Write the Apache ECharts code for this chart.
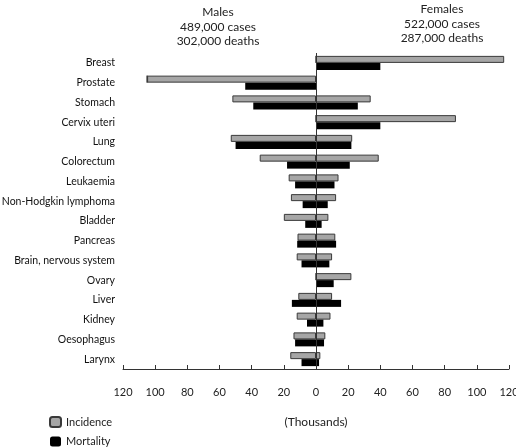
<!DOCTYPE html>
<html><head><meta charset="utf-8">
<script src="https://cdn.jsdelivr.net/npm/echarts@6/dist/echarts.min.js"></script>
<style>html,body{margin:0;padding:0;background:#fff}#c{width:516px;height:448px}</style>
</head><body><div id="c"></div>
<script>
const categories = ["Breast","Prostate","Stomach","Cervix uteri","Lung","Colorectum","Leukaemia","Non-Hodgkin lymphoma","Bladder","Pancreas","Brain, nervous system","Ovary","Liver","Kidney","Oesophagus","Larynx"];
const maleIncidence = [0,105,52,0,53,35,17,15.6,20,11.5,12,0,11,12,14,16];
const maleMortality = [0,44,39,0,50,18,13,8.3,6.7,11.7,9,0,15,5.6,13,9];
const femaleIncidence = [117,0,34,87,22.5,39,14,12.5,7.7,12,10,22,10,9,5.8,2.7];
const femaleMortality = [40,0,26,40,22,21,11.5,7.3,3.5,12.5,8.3,11,15.6,4.6,5,1.9];
const xTicks = {min:-120, max:120, interval:20};

const font = "Lato, 'Open Sans', sans-serif";
const chart = echarts.init(document.getElementById('c'));
const neg = a => a.map(v => -v);
const incStyle = {color:'#a6a6a6', borderColor:'#3a3a3a', borderWidth:1};
const mortStyle = {color:'#000'};
chart.setOption({
  animation:false,
  textStyle:{fontFamily:font},
  title:[
    {text:'Males\n489,000 cases\n302,000 deaths', left:218, top:5, textAlign:'center', padding:0,
     textStyle:{fontSize:12, fontWeight:'normal', color:'#222', lineHeight:14.5, fontFamily:font}},
    {text:'Females\n522,000 cases\n287,000 deaths', left:442, top:2, textAlign:'center', padding:0,
     textStyle:{fontSize:12, fontWeight:'normal', color:'#222', lineHeight:14.5, fontFamily:font}}
  ],
  legend:{orient:'vertical', left:49, top:416, padding:0, itemWidth:11, itemHeight:10, itemGap:8,
    data:['Incidence','Mortality'],
    textStyle:{fontSize:11, color:'#222', fontFamily:font}},
  grid:{left:123, right:7, top:53, bottom:79, outerBoundsMode:'none', containLabel:false},
  xAxis:{type:'value', min:xTicks.min, max:xTicks.max, interval:xTicks.interval,
    axisLine:{show:true, lineStyle:{color:'#333'}},
    axisTick:{show:true, inside:true, length:4, lineStyle:{color:'#333'}},
    splitLine:{show:false},
    axisLabel:{margin:18, fontSize:11, color:'#222', formatter:v=>Math.abs(v)},
    name:'(Thousands)', nameLocation:'middle', nameGap:47,
    nameTextStyle:{fontSize:12, color:'#222'}},
  yAxis:{type:'category', data:categories, inverse:true,
    axisLine:{show:false}, axisTick:{show:false},
    axisLabel:{margin:8, fontSize:10.5, color:'#111', padding:[0,0,8,0]}},
  series:[
    {name:'Incidence', type:'bar', stack:'inc', data:neg(maleIncidence), barWidth:7, barGap:'0%', itemStyle:incStyle,
     markLine:{silent:true, symbol:'none', label:{show:false}, lineStyle:{color:'#333', type:'solid', width:1}, data:[{xAxis:0}]}},
    {name:'Mortality', type:'bar', stack:'mort', data:neg(maleMortality), barWidth:7, barGap:'0%', itemStyle:mortStyle},
    {name:'Incidence', type:'bar', stack:'inc', data:femaleIncidence, barWidth:7, barGap:'0%', itemStyle:incStyle},
    {name:'Mortality', type:'bar', stack:'mort', data:femaleMortality, barWidth:7, barGap:'0%', itemStyle:mortStyle}
  ]
});
</script></body></html>
